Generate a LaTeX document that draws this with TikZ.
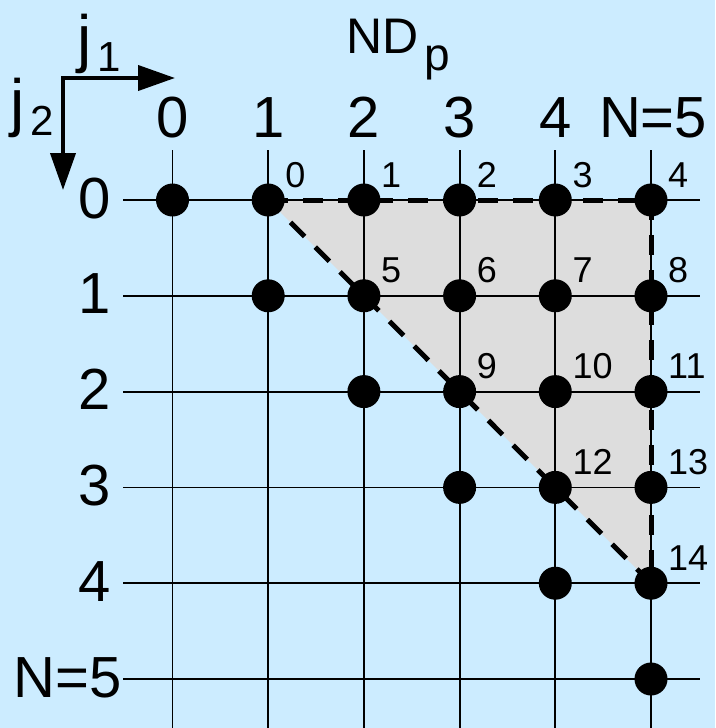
\documentclass[tikz,border=0pt]{standalone}
\usepackage{fontspec}
\setmainfont{Liberation Sans}
\usetikzlibrary{arrows.meta}
\definecolor{bgblue}{RGB}{204,236,255}
\definecolor{trigray}{RGB}{221,221,221}
\tikzset{
  gridline/.style={line width=1.8pt, black},
  dashline/.style={line width=5pt, black, dash pattern=on 20pt off 15pt},
  dotnode/.style={circle, fill=black, minimum size=33pt, inner sep=0pt},
  idx/.style={font=\fontsize{36}{36}\selectfont, inner sep=0pt, anchor=base west},
  biglabel/.style={font=\fontsize{58}{58}\selectfont, inner sep=0pt},
  axisline/.style={line width=4pt, black, {Triangle[length=37pt,width=25pt]}-{Triangle[length=37pt,width=25pt]}}
}
\begin{document}
\begin{tikzpicture}[x=1pt,y=-1pt]
\fill[bgblue] (0,0) rectangle (715,728);
\useasboundingbox (0,0) rectangle (715,728);
% grid coordinates
\foreach \c in {0,...,5}{
  \foreach \r in {0,...,5}{
    \coordinate (p-\c-\r) at ({172.5+95.7*\c},{200+95.8*\r});
  }
}
% gray triangle
\fill[trigray] (p-1-0) -- (p-5-0) -- (p-5-4) -- cycle;
% grid lines
\foreach \r in {0,...,5}{
  \coordinate (hl-\r) at (123,{200+95.8*\r});
  \coordinate (hr-\r) at (700,{200+95.8*\r});
  \draw[gridline] (hl-\r) -- (hr-\r);
}
\foreach \c in {0,...,5}{
  \coordinate (vt-\c) at ({172.5+95.7*\c},150);
  \coordinate (vb-\c) at ({172.5+95.7*\c},735);
  \draw[gridline] (vt-\c) -- (vb-\c);
}
% dashed triangle outline
\draw[dashline] (p-1-0) -- (p-5-0);
\draw[dashline] (p-5-0) -- (p-5-4);
\draw[dashline] (p-5-4) -- (p-1-0);
% dots
\foreach \r in {0,...,5}{
  \foreach \c in {\r,...,5}{
    \node[dotnode] (d-\c-\r) at (p-\c-\r) {};
  }
}
% index labels
\foreach \c/\r/\n in {1/0/0,2/0/1,3/0/2,4/0/3,5/0/4,
                      2/1/5,3/1/6,4/1/7,5/1/8,
                      3/2/9,4/2/10,5/2/11,
                      4/3/12,5/3/13,
                      5/4/14}{
  \node[idx] (n-\n) at ([xshift=17pt,yshift=13pt]p-\c-\r) {\n};
}
% column headers
\foreach \c in {0,...,4}{
  \node[biglabel, anchor=base] (h-\c) at ({172.5+95.7*\c},137) {\c};
}
\node[biglabel, anchor=base] (h-5) at (653,137) {N=5};
% row headers
\foreach \r in {0,...,4}{
  \node[biglabel, anchor=base east] (v-\r) at (111,{218+95.8*\r}) {\r};
}
\node[biglabel, anchor=base east] (v-5) at (122,697) {N=5};
% axis arrows
\coordinate (axv) at (63,190);
\coordinate (axh) at (175,78);
\draw[axisline] (axv) |- (axh);
\node[font=\fontsize{64}{64}\selectfont, inner sep=0pt, anchor=base west] (j1) at (77,60) {j\hspace{6pt}\raisebox{-11pt}{\fontsize{42}{42}\selectfont 1}};
\node[font=\fontsize{64}{64}\selectfont, inner sep=0pt, anchor=base west] (j2) at (10,124) {j\hspace{6pt}\raisebox{-11pt}{\fontsize{42}{42}\selectfont 2}};
\node[font=\fontsize{50}{50}\selectfont, inner sep=0pt, anchor=base west] (ndp) at (346,53) {ND\hspace{6pt}\raisebox{-17pt}{\fontsize{46}{46}\selectfont p}};
\end{tikzpicture}
\end{document}
